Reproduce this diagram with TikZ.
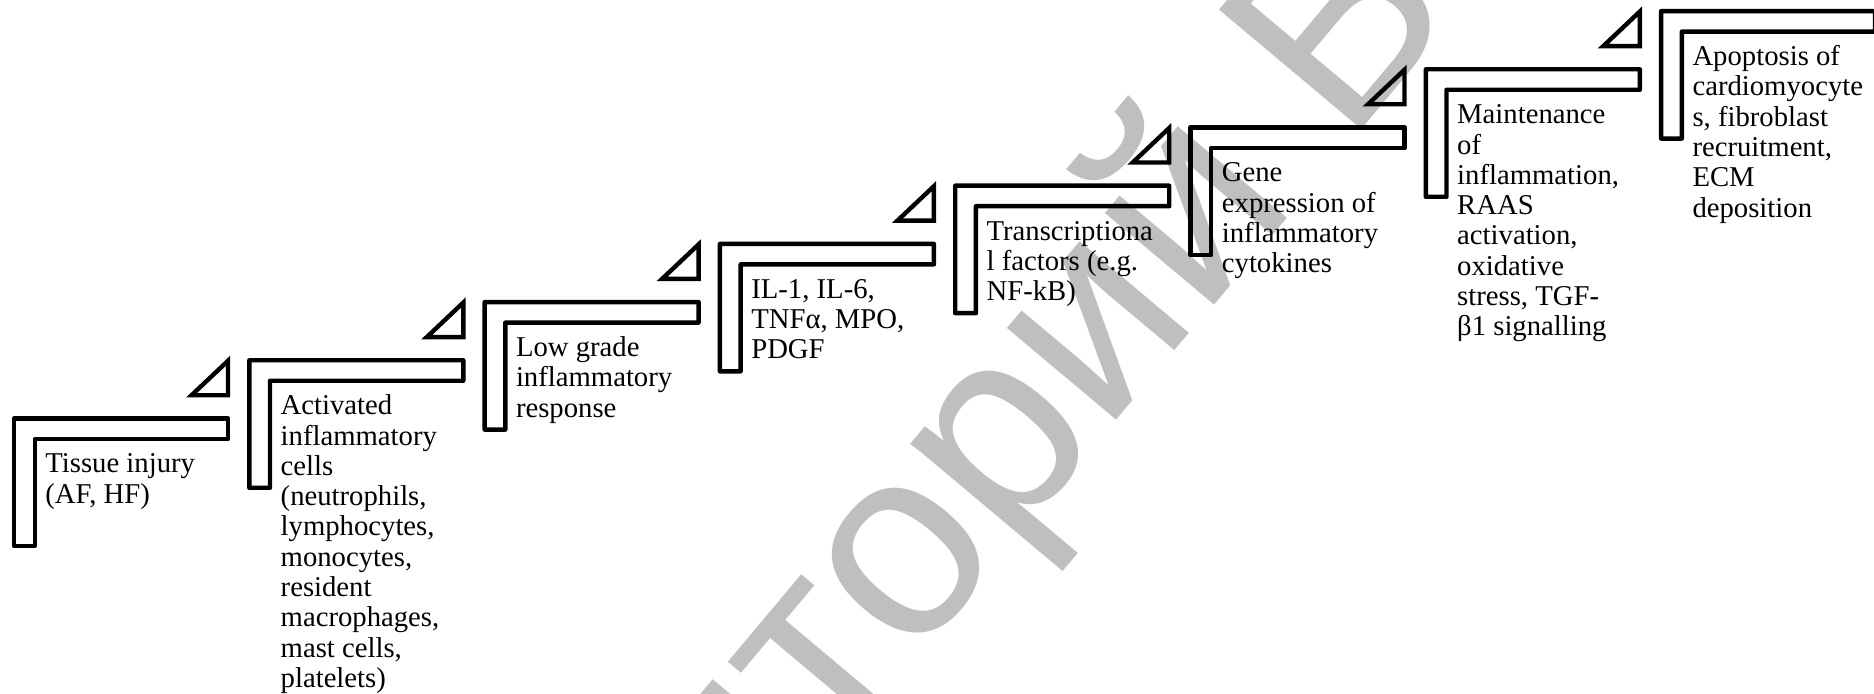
\documentclass[tikz,border=0pt]{standalone}
\usepackage{fontspec}
\setmainfont{Liberation Serif}
\newfontfamily\wmfont{Liberation Sans}
\begin{document}
\begin{tikzpicture}[x=0.5pt,y=-0.5pt,
  stepline/.style={line width=2.2pt, line join=round},
  tipline/.style={line width=2.2pt, line join=miter},
  steptext/.style={anchor=north west, align=left, inner sep=0pt,
    font=\rmfamily\fontsize{14.35}{15.15}\selectfont},
  wm/.style={text=black!25, font=\wmfont\fontsize{135}{135}\selectfont,
    rotate=50, inner sep=0pt}]
\useasboundingbox (0,0) rectangle (1874,694);
\clip (0,0) rectangle (1874,694);
\node[wm] (wm) at (972,481) {Репозиторий БГПУ};
\foreach \i/\txt in {
  0/{Tissue injury\\(AF, HF)},
  1/{Activated\\inflammatory\\cells\\(neutrophils,\\lymphocytes,\\monocytes,\\resident\\macrophages,\\mast cells,\\platelets)},
  2/{Low grade\\inflammatory\\response},
  3/{IL-1, IL-6,\\TNFα, MPO,\\PDGF},
  4/{Transcriptiona\\l factors (e.g.\\NF-kB)},
  5/{Gene\\expression of\\inflammatory\\cytokines},
  6/{Maintenance\\of\\inflammation,\\RAAS\\activation,\\oxidative\\stress, TGF-\\β1 signalling},
  7/{Apoptosis of\\cardiomyocyte\\s, fibroblast\\recruitment,\\ECM\\deposition}}{
  \pgfmathsetmacro\xa{14+235.3*\i}
  \pgfmathsetmacro\ya{418.5-58.2*\i}
  \draw[stepline] (\xa,\ya) -- ++(214,0) -- ++(0,20.5) -- ++(-193.3,0)
     -- ++(0,107) -- ++(-20.7,0) -- cycle;
  \node[steptext] (s\i) at (\xa+31,\ya+32.8) {\strut\txt};
  \ifnum\i>0
    \draw[tipline] (\xa-21.3,\ya+0.5) -- (\xa-21.3,\ya+35) -- (\xa-57.8,\ya+35) -- cycle;
  \fi
}
\end{tikzpicture}
\end{document}
